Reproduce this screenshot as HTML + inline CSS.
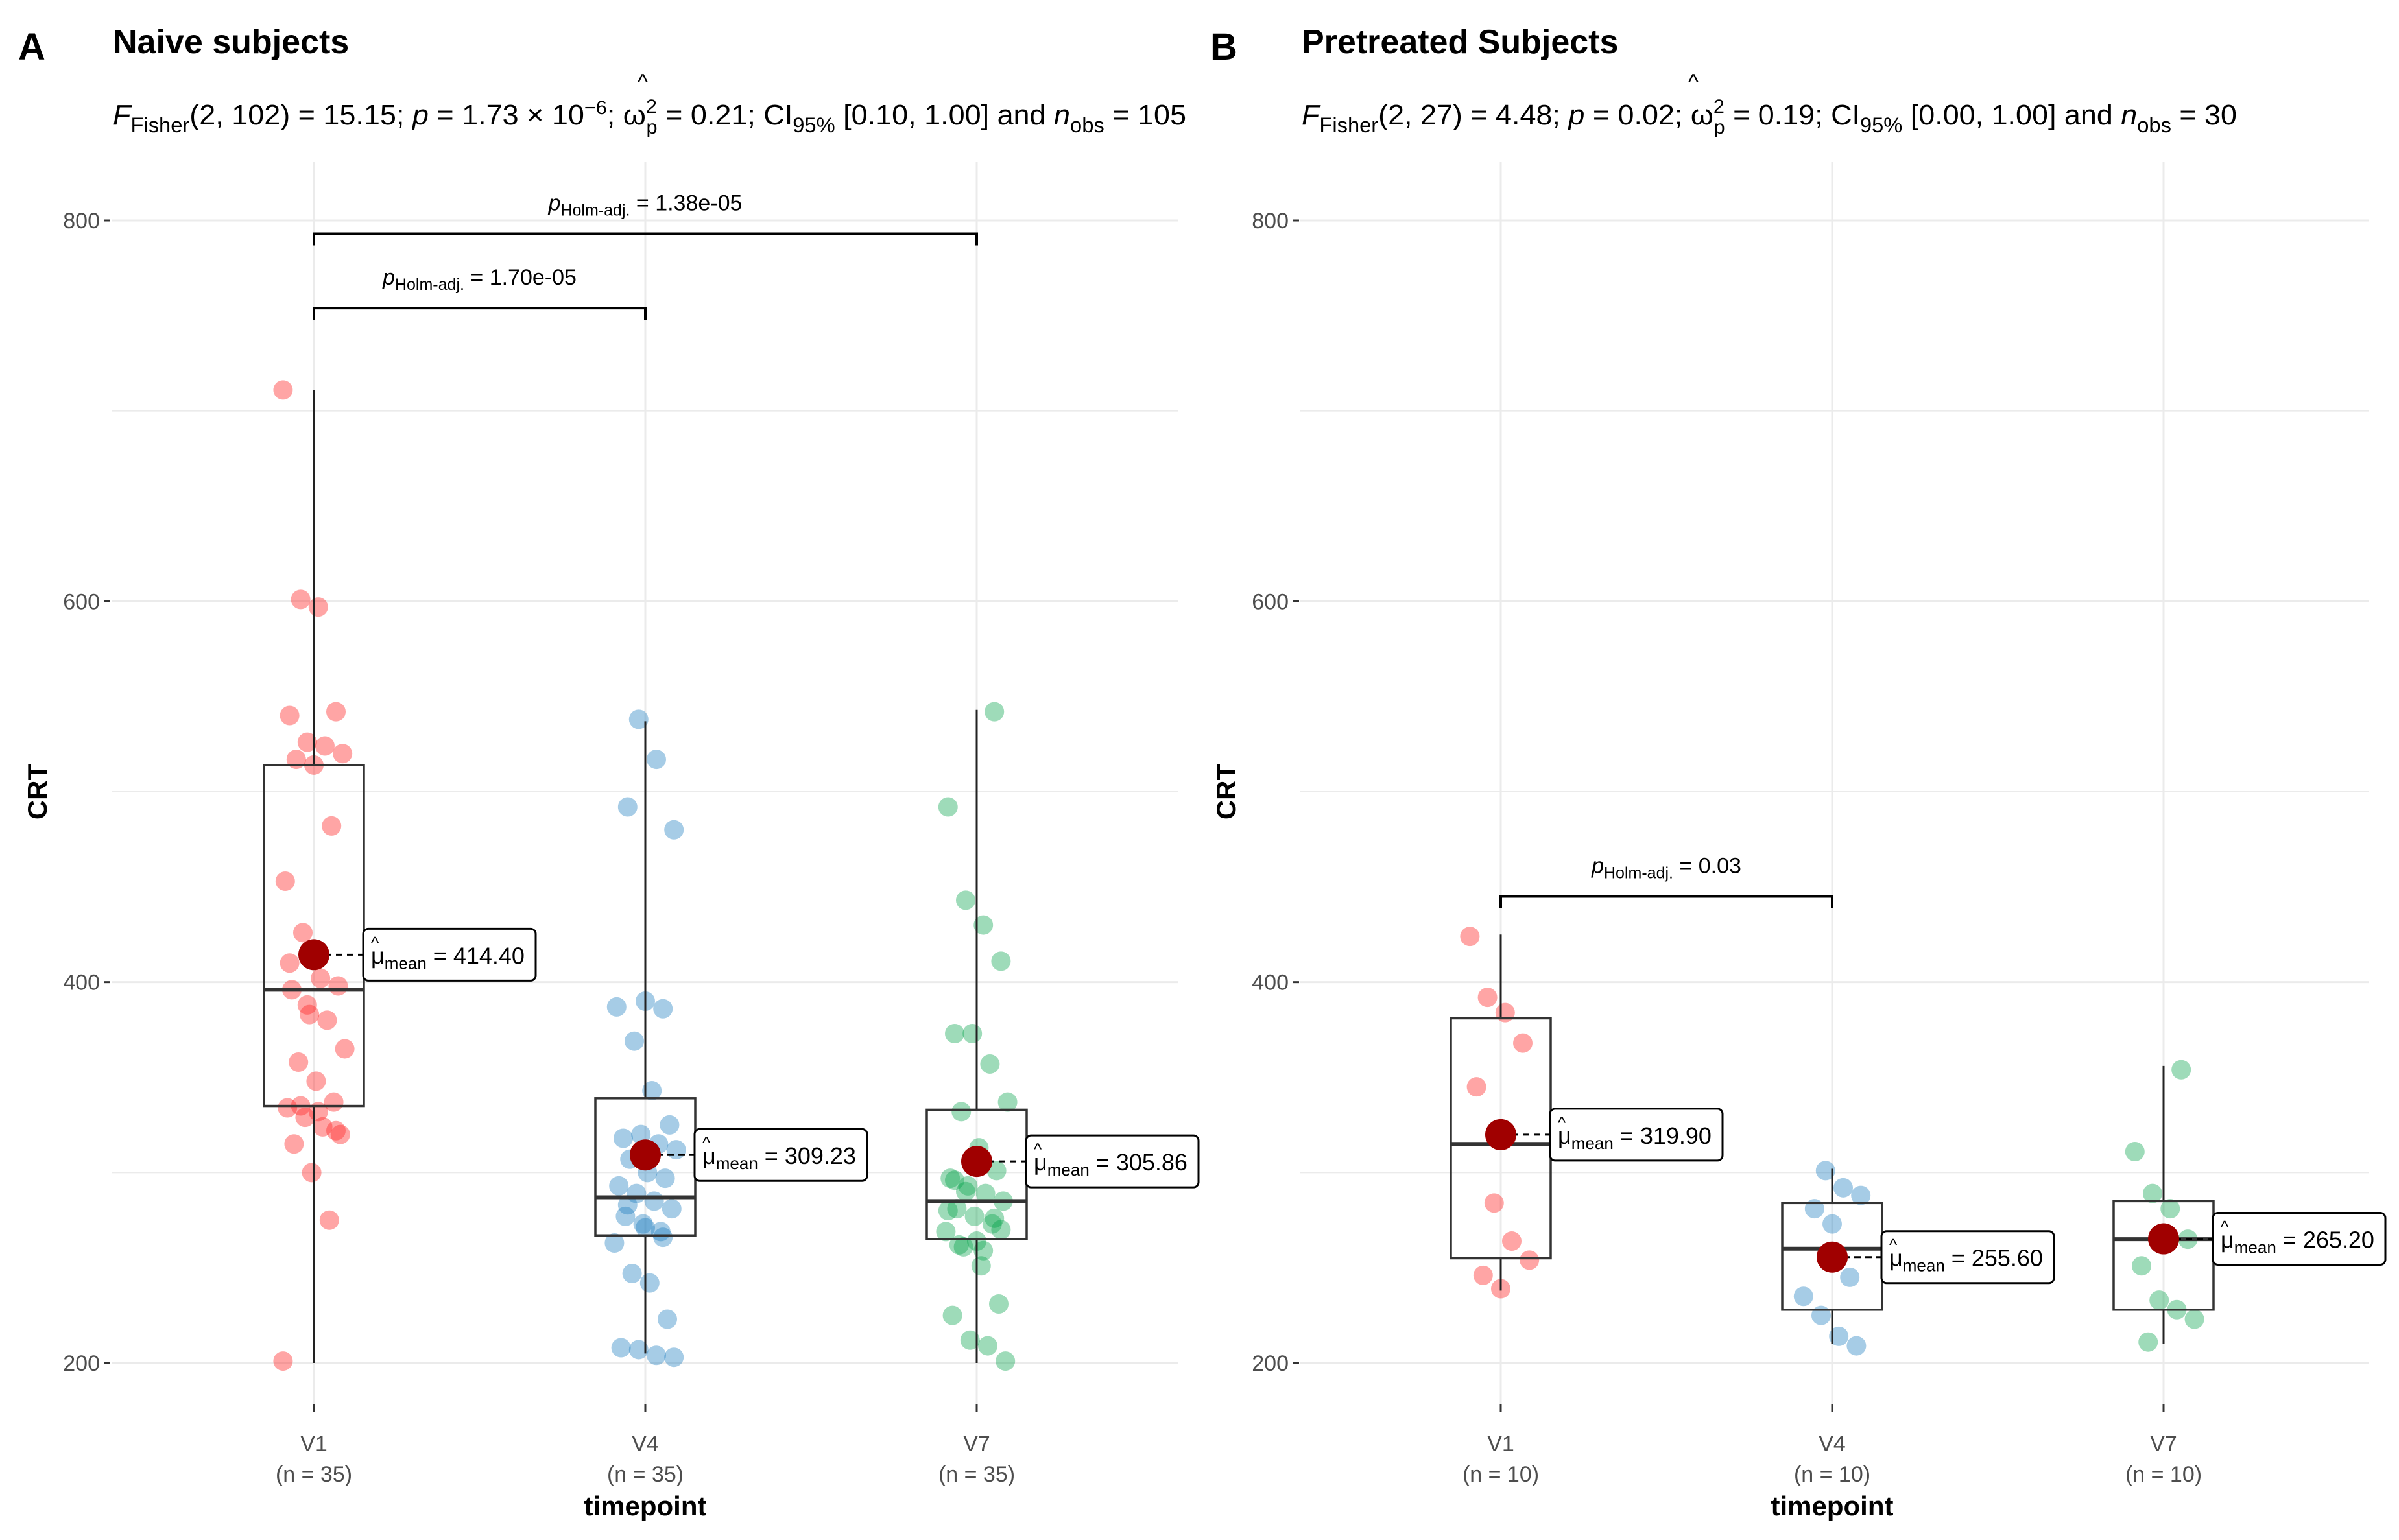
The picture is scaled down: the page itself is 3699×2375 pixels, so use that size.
<!DOCTYPE html>
<html><head><meta charset="utf-8"><style>
html,body{margin:0;padding:0;background:#fff}
svg{display:block;font-family:"Liberation Sans",sans-serif}
</style></head><body>
<svg id="chart" width="3699" height="2375" viewBox="0 0 3699 2375" xmlns="http://www.w3.org/2000/svg">
<rect width="3699" height="2375" fill="#fff"/>
<g id="pA"></g>
<g id="pB"></g>
</svg>
<script>
const categories = ["V1","V4","V7"];
const yTicks = [200,400,600,800];
const naiveV1 = [711,601,597,542,540,526,524,520,517,514,482,453,426,402,398,396,383,380,365,358,348,337,334,329,324,320,315,300,275,201,335,332,322,410,388];
const naiveV4 = [538,517,480,492,390,386,387,369,343,325,318,320,315,312,307,300,297,293,289,285,281,277,273,269,263,247,242,223,208,207,204,203,283,271,266];
const naiveV7 = [542,492,443,430,411,373,373,357,337,332,313,301,297,293,289,285,281,277,273,269,261,251,231,225,212,209,201,262,264,276,280,290,259,270,296];
const preV1 = [424,392,384,368,345,284,264,254,246,239];
const preV4 = [301,292,288,281,273,245,235,225,214,209];
const preV7 = [354,311,289,281,265,251,233,228,223,211];
const naiveBox = [[200,335,396,514,711],[205,267,287,339,537],[200,265,285,333,543]];
const preBox = [[238,255,315,381,425],[210,228,260,284,302],[210,228,265,285,356]];
const naiveMeans = [414.40,309.23,305.86];
const preMeans = [319.90,255.60,265.20];
const naiveN = [35,35,35];
const preN = [10,10,10];

const NS="http://www.w3.org/2000/svg";
function el(parent,tag,attrs,text){const e=document.createElementNS(NS,tag);for(const k in attrs)e.setAttribute(k,attrs[k]);if(text!==undefined)e.textContent=text;parent.appendChild(e);return e;}
const y = v => 2102 - (v-200)*(2102-340)/600;
const colors=["rgba(255,40,40,0.42)","rgba(20,120,190,0.38)","rgba(0,160,70,0.38)"];

function panel(g, opt){
  const x = i => opt.x0 + i*opt.dx;
  for(let v=100; v<=900; v+=100){
    if(v<150||v>850)continue;
    const ln=el(g,"line",{x1:opt.left,x2:opt.right,y1:y(v),y2:y(v),stroke:"#ebebeb","stroke-width":v%200===0?3:2});
    
    
  }
  categories.forEach((c,i)=>{
    const ln=el(g,"line",{x1:x(i),x2:x(i),y1:250,y2:2165,stroke:"#ebebeb","stroke-width":3});
    
    
  });
  yTicks.forEach(t=>{
    el(g,"line",{x1:opt.left-12,x2:opt.left-2,y1:y(t),y2:y(t),stroke:"#333","stroke-width":3});
    const tx=el(g,"text",{x:opt.left-18,y:y(t)+12,"text-anchor":"end","font-size":34,fill:"#4d4d4d"},t);
    
    
  });
  opt.series.forEach((arr,i)=>{
    arr.forEach((v,j)=>{
      const jit=(((j*37+i*11)%29)-14)*3.4;
      const c=el(g,"circle",{cx:x(i)+jit,cy:y(v),r:15,fill:colors[i]});
      
      
    });
  });
  opt.box.forEach((b,i)=>{
    const [mn,q1,md,q3,mx]=b, hw=77;
    el(g,"line",{x1:x(i),x2:x(i),y1:y(mx),y2:y(q3),stroke:"#222","stroke-width":3});
    el(g,"line",{x1:x(i),x2:x(i),y1:y(q1),y2:y(mn),stroke:"#222","stroke-width":3});
    const r=el(g,"rect",{x:x(i)-hw,y:y(q3),width:2*hw,height:y(q1)-y(q3),fill:"none",stroke:"#333","stroke-width":3.5});
    
    
    el(g,"line",{x1:x(i)-hw,x2:x(i)+hw,y1:y(md),y2:y(md),stroke:"#333","stroke-width":6});
  });
  opt.means.forEach((m,i)=>{
    const cy=y(m);
    el(g,"line",{x1:x(i),x2:x(i)+76,y1:cy,y2:cy,stroke:"#000","stroke-width":3,"stroke-dasharray":"10,7"});
    const c=el(g,"circle",{cx:x(i),cy:cy,r:24,fill:"#a00000"});
    
    
    const bx=x(i)+76;
    const lb=el(g,"g",{});
    
    
    el(lb,"rect",{x:bx,y:cy-40,width:266,height:80,rx:8,fill:"#fff",stroke:"#000","stroke-width":3});
    el(lb,"text",{x:bx+12,y:cy-10,"font-size":26},"^");
    const t=el(lb,"text",{x:bx+12,y:cy+14,"font-size":36});
    el(t,"tspan",{},"μ");
    el(t,"tspan",{"font-size":26,dy:8},"mean");
    el(t,"tspan",{dy:-8}," = "+m.toFixed(2));
  });
  categories.forEach((c,i)=>{
    el(g,"line",{x1:x(i),x2:x(i),y1:2165,y2:2177,stroke:"#333","stroke-width":3});
    const t=el(g,"text",{x:x(i),y:2238,"text-anchor":"middle","font-size":34,fill:"#4d4d4d"},c);
    
    
    el(g,"text",{x:x(i),y:2285,"text-anchor":"middle","font-size":34,fill:"#4d4d4d"},"(n = "+opt.n[i]+")");
  });
  const xt=el(g,"text",{x:x(1),y:2337,"text-anchor":"middle","font-size":42,"font-weight":"bold"},"timepoint");
  
  
  const yt=el(g,"text",{x:0,y:0,"text-anchor":"middle","font-size":42,"font-weight":"bold",transform:`translate(${opt.left-100},${y(500)}) rotate(-90)`},"CRT");
  
  
  opt.brackets.forEach(b=>{
    const yy=y(b.v);
    const bg=el(g,"g",{});
    
    
    el(bg,"path",{d:`M${x(b.a)},${yy+18} V${yy} H${x(b.b)} V${yy+18}`,fill:"none",stroke:"#000","stroke-width":4});
    const t=el(bg,"text",{x:(x(b.a)+x(b.b))/2,y:yy-36,"text-anchor":"middle","font-size":34});
    el(t,"tspan",{"font-style":"italic"},"p");
    el(t,"tspan",{"font-size":25,dy:8},"Holm-adj.");
    el(t,"tspan",{dy:-8}," = "+b.label);
  });
  const L=el(g,"text",{x:opt.tagX,y:92,"font-size":58,"font-weight":"bold"},opt.tag);
  
  
  const T=el(g,"text",{x:opt.titleX,y:82,"font-size":52,"font-weight":"bold"},opt.title);
  
  
  el(g,"text",{x:opt.hatX,y:138,"font-size":34},"^");
  const S=el(g,"text",{x:opt.titleX,y:192,"font-size":44,textLength:opt.subW,lengthAdjust:"spacingAndGlyphs"});
  
  
  opt.sub.forEach(p=>{el(S,"tspan",p.a||{},p.t);});
}

panel(document.getElementById("pA"),{
  x0:484,dx:511,left:172,right:1816,series:[naiveV1,naiveV4,naiveV7],box:naiveBox,means:naiveMeans,n:naiveN,
  brackets:[{a:0,b:2,v:793,label:"1.38e-05"},{a:0,b:1,v:754,label:"1.70e-05"}],
  tag:"A",tagX:28,title:"Naive subjects",titleX:174,hatX:983,subW:1655,
  sub:[{t:"F",a:{"font-style":"italic"}},{t:"Fisher",a:{"font-size":32,dy:12}},{t:"(2, 102) = 15.15; ",a:{dy:-12}},{t:"p",a:{"font-style":"italic"}},{t:" = 1.73 × 10"},{t:"−6",a:{"font-size":30,dy:-16}},{t:"; ω",a:{dy:16}},{t:"2",a:{"font-size":30,dy:-18}},{t:"p",a:{"font-size":30,dy:32,dx:-16}},{t:" = 0.21; CI",a:{dy:-14}},{t:"95%",a:{"font-size":32,dy:12}},{t:" [0.10, 1.00] and ",a:{dy:-12}},{t:"n",a:{"font-style":"italic"}},{t:"obs",a:{"font-size":32,dy:12}},{t:" = 105",a:{dy:-12}}]
});
panel(document.getElementById("pB"),{
  x0:2314,dx:511,left:2005,right:3652,series:[preV1,preV4,preV7],box:preBox,means:preMeans,n:preN,
  brackets:[{a:0,b:1,v:445,label:"0.03"}],
  tag:"B",tagX:1866,title:"Pretreated Subjects",titleX:2007,hatX:2603,subW:1442,
  sub:[{t:"F",a:{"font-style":"italic"}},{t:"Fisher",a:{"font-size":32,dy:12}},{t:"(2, 27) = 4.48; ",a:{dy:-12}},{t:"p",a:{"font-style":"italic"}},{t:" = 0.02; ω"},{t:"2",a:{"font-size":30,dy:-18}},{t:"p",a:{"font-size":30,dy:32,dx:-16}},{t:" = 0.19; CI",a:{dy:-14}},{t:"95%",a:{"font-size":32,dy:12}},{t:" [0.00, 1.00] and ",a:{dy:-12}},{t:"n",a:{"font-style":"italic"}},{t:"obs",a:{"font-size":32,dy:12}},{t:" = 30",a:{dy:-12}}]
});
</script>
</body></html>
